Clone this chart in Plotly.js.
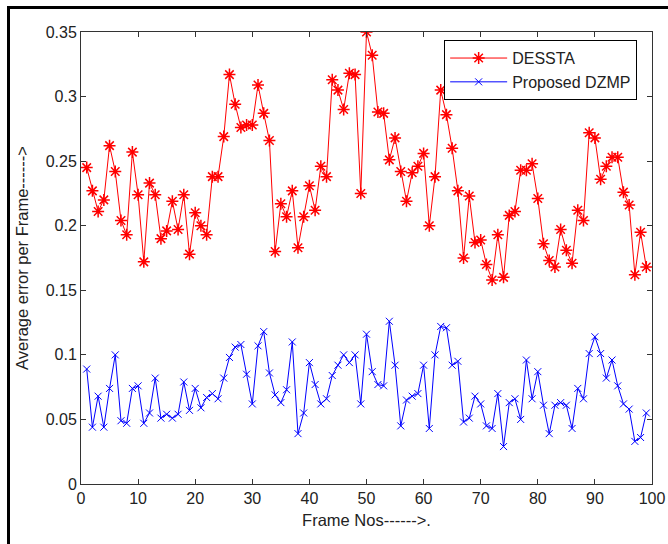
<!DOCTYPE html>
<html>
<head>
<meta charset="utf-8">
<script src="https://cdn.plot.ly/plotly-3.0.1.min.js"></script>
<style>
  html, body { margin:0; padding:0; background:#fff; overflow:hidden; }
  #chart { position:absolute; left:0; top:0; width:668px; height:544px; }
  #frame { position:absolute; left:7px; top:6px; width:700px; height:600px;
           border-left:3px solid #000; border-top:3px solid #000; pointer-events:none; }
</style>
</head>
<body>
<div id="chart"></div>
<div id="frame"></div>
<script>
const frames = Array.from({length: 99}, (_, i) => i + 1);

const dessta = [
  0.245, 0.227, 0.211, 0.220, 0.262, 0.242, 0.204, 0.193, 0.257, 0.224,
  0.172, 0.233, 0.224, 0.190, 0.196, 0.219, 0.197, 0.224, 0.178, 0.210,
  0.200, 0.193, 0.238, 0.238, 0.269, 0.317, 0.294, 0.276, 0.278, 0.278,
  0.309, 0.287, 0.266, 0.180, 0.217, 0.207, 0.227, 0.183, 0.207, 0.231,
  0.212, 0.246, 0.238, 0.313, 0.305, 0.290, 0.318, 0.317, 0.225, 0.350,
  0.332, 0.288, 0.287, 0.251, 0.268, 0.242, 0.219, 0.241, 0.246, 0.256,
  0.200, 0.238, 0.305, 0.286, 0.260, 0.227, 0.175, 0.223, 0.187, 0.189,
  0.170, 0.158, 0.193, 0.160, 0.208, 0.211, 0.243, 0.243, 0.248, 0.221,
  0.186, 0.173, 0.168, 0.197, 0.181, 0.171, 0.212, 0.204, 0.272, 0.268,
  0.236, 0.246, 0.253, 0.253, 0.226, 0.216, 0.162, 0.195, 0.168
];

const dzmp = [
  0.089, 0.044, 0.068, 0.044, 0.074, 0.100, 0.049, 0.047, 0.074, 0.076,
  0.047, 0.055, 0.082, 0.051, 0.054, 0.051, 0.054, 0.079, 0.057, 0.074,
  0.059, 0.067, 0.070, 0.066, 0.082, 0.098, 0.106, 0.108, 0.085, 0.062,
  0.107, 0.118, 0.086, 0.069, 0.063, 0.073, 0.110, 0.039, 0.055, 0.094,
  0.077, 0.062, 0.066, 0.084, 0.092, 0.100, 0.094, 0.100, 0.062, 0.116,
  0.087, 0.077, 0.076, 0.126, 0.092, 0.045, 0.065, 0.068, 0.070, 0.092,
  0.043, 0.100, 0.122, 0.121, 0.092, 0.095, 0.048, 0.051, 0.068, 0.062,
  0.045, 0.043, 0.070, 0.029, 0.063, 0.066, 0.050, 0.096, 0.066, 0.087,
  0.061, 0.039, 0.061, 0.063, 0.061, 0.043, 0.074, 0.066, 0.101, 0.114,
  0.101, 0.082, 0.096, 0.076, 0.062, 0.058, 0.033, 0.036, 0.055
];

const xTicks = [0, 10, 20, 30, 40, 50, 60, 70, 80, 90, 100];
const yTicks = [0, 0.05, 0.1, 0.15, 0.2, 0.25, 0.3, 0.35];
const yTickText = ['0', '0.05', '0.1', '0.15', '0.2', '0.25', '0.3', '0.35'];

const tickFont = {family: 'Liberation Sans, Arial, sans-serif', size: 16, color: '#222'};
const titleFont = {family: 'Liberation Sans, Arial, sans-serif', size: 16.5, color: '#222'};

const traces = [
  {
    x: frames, y: dessta, name: 'DESSTA', type: 'scatter', mode: 'lines+markers',
    line: {color: '#ff0000', width: 1},
    marker: {symbol: 'asterisk-open', size: 10, color: '#ff0000', line: {color: '#ff0000', width: 1.5}}
  },
  {
    x: frames, y: dzmp, name: 'Proposed DZMP', type: 'scatter', mode: 'lines+markers',
    line: {color: '#0000ff', width: 1},
    marker: {symbol: 'x-thin-open', size: 7, color: '#0000ff', line: {color: '#0000ff', width: 1}}
  }
];

const axisCommon = {
  showgrid: false, zeroline: false, showline: true, mirror: 'ticks',
  linecolor: '#333', linewidth: 1, ticks: 'inside', ticklen: 5, tickcolor: '#333',
  tickfont: tickFont
};

const layout = {
  width: 668, height: 544,
  margin: {l: 81, r: 16, t: 32, b: 60},
  paper_bgcolor: '#fff', plot_bgcolor: '#fff',
  font: tickFont,
  showlegend: true,
  legend: {
    x: 0.636, y: 0.982, xanchor: 'left', yanchor: 'top',
    bordercolor: '#000', borderwidth: 1, bgcolor: '#fff',
    font: {family: 'Liberation Sans, Arial, sans-serif', size: 16, color: '#222'},
    itemwidth: 57, tracegroupgap: 0
  },
  xaxis: Object.assign({}, axisCommon, {
    range: [0, 100], tickvals: xTicks, ticktext: xTicks.map(String),
    title: {text: 'Frame Nos------>.', font: titleFont, standoff: 8}
  }),
  yaxis: Object.assign({}, axisCommon, {
    range: [0, 0.35], tickvals: yTicks, ticktext: yTickText,
    title: {text: 'Average error per Frame------>', font: titleFont, standoff: 12}
  })
};

Plotly.newPlot('chart', traces, layout, {displayModeBar: false, staticPlot: true});
</script>
</body>
</html>
